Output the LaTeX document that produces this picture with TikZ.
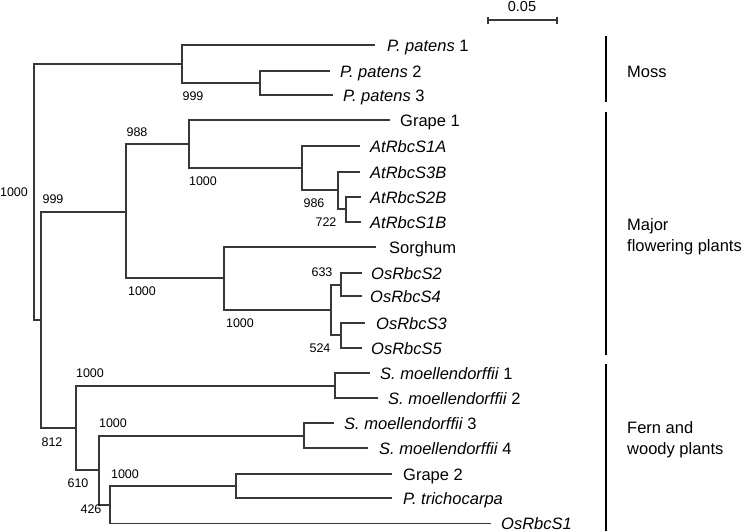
\documentclass[tikz,border=0pt]{standalone}
\usepackage{fontspec}
\setmainfont{Liberation Sans}
\begin{document}
\begin{tikzpicture}[x=1pt,y=-1pt,
 branch/.style={draw=black!78, line width=1.1pt},
 leaf/.style={anchor=base west, inner sep=0pt, font=\fontsize{16.5}{19}\selectfont},
 boot/.style={anchor=center, inner sep=0pt, font=\fontsize{12.5}{14}\selectfont},
 grp/.style={anchor=west, inner sep=0pt, align=left, font=\fontsize{16.5}{21.5}\selectfont},
 bar/.style={draw=black, line width=2.4pt}]
\useasboundingbox (0,0) rectangle (749,531);

% internal nodes
\coordinate (R) at (34,192);
\coordinate (M) at (182,64);
\coordinate (P23) at (260,83);
\coordinate (N999) at (41,320);
\coordinate (F) at (126,212);
\coordinate (N988) at (189,144);
\coordinate (NAt) at (302,168);
\coordinate (NAt2) at (338,190);
\coordinate (NAt3) at (346,209);
\coordinate (NG) at (224,278);
\coordinate (NOs) at (331,310);
\coordinate (NOs24) at (341,285);
\coordinate (NOs35) at (341,335);
\coordinate (L) at (76,428);
\coordinate (NS12) at (335,386);
\coordinate (N610) at (99,470);
\coordinate (NS34) at (304,436);
\coordinate (N426) at (110,505);
\coordinate (NGP) at (236,486);

% leaf ends
\coordinate (pp1) at (375,45);
\coordinate (pp2) at (330,71);
\coordinate (pp3) at (333,95);
\coordinate (gr1) at (390,120);
\coordinate (at1a) at (360,146);
\coordinate (at3b) at (360,172);
\coordinate (at2b) at (361,197);
\coordinate (at1b) at (361,222);
\coordinate (sor) at (376,247);
\coordinate (os2) at (362,273);
\coordinate (os4) at (362,296);
\coordinate (os3) at (365,323);
\coordinate (os5) at (362,348);
\coordinate (sm1) at (370,373);
\coordinate (sm2) at (378,398);
\coordinate (sm3) at (334,423);
\coordinate (sm4) at (368,448);
\coordinate (gr2) at (392,474);
\coordinate (ptr) at (392,498);
\coordinate (os1) at (491,523.5);

% branches
\draw[branch] (R) |- (M);
\draw[branch] (R) |- (N999);
\draw[branch] (M) |- (pp1);
\draw[branch] (M) |- (P23);
\draw[branch] (P23) |- (pp2);
\draw[branch] (P23) |- (pp3);
\draw[branch] (N999) |- (F);
\draw[branch] (N999) |- (L);
\draw[branch] (F) |- (N988);
\draw[branch] (F) |- (NG);
\draw[branch] (N988) |- (gr1);
\draw[branch] (N988) |- (NAt);
\draw[branch] (NAt) |- (at1a);
\draw[branch] (NAt) |- (NAt2);
\draw[branch] (NAt2) |- (at3b);
\draw[branch] (NAt2) |- (NAt3);
\draw[branch] (NAt3) |- (at2b);
\draw[branch] (NAt3) |- (at1b);
\draw[branch] (NG) |- (sor);
\draw[branch] (NG) |- (NOs);
\draw[branch] (NOs) |- (NOs24);
\draw[branch] (NOs) |- (NOs35);
\draw[branch] (NOs24) |- (os2);
\draw[branch] (NOs24) |- (os4);
\draw[branch] (NOs35) |- (os3);
\draw[branch] (NOs35) |- (os5);
\draw[branch] (L) |- (NS12);
\draw[branch] (L) |- (N610);
\draw[branch] (NS12) |- (sm1);
\draw[branch] (NS12) |- (sm2);
\draw[branch] (N610) |- (NS34);
\draw[branch] (N610) |- (N426);
\draw[branch] (NS34) |- (sm3);
\draw[branch] (NS34) |- (sm4);
\draw[branch] (N426) |- (NGP);
\draw[branch] (N426) |- (os1);
\draw[branch] (NGP) |- (gr2);
\draw[branch] (NGP) |- (ptr);

% leaf labels
\node[leaf] (tpp1) at (387,51) {\textit{P. patens} 1};
\node[leaf] (tpp2) at (340,77) {\textit{P. patens} 2};
\node[leaf] (tpp3) at (343,101) {\textit{P. patens} 3};
\node[leaf] (tgr1) at (400,126) {Grape 1};
\node[leaf] (tat1a) at (370,152) {\textit{AtRbcS1A}};
\node[leaf] (tat3b) at (370,178) {\textit{AtRbcS3B}};
\node[leaf] (tat2b) at (370,203) {\textit{AtRbcS2B}};
\node[leaf] (tat1b) at (370,228) {\textit{AtRbcS1B}};
\node[leaf] (tsor) at (389,253) {Sorghum};
\node[leaf] (tos2) at (371,279) {\textit{OsRbcS2}};
\node[leaf] (tos4) at (370,302) {\textit{OsRbcS4}};
\node[leaf] (tos3) at (376,329) {\textit{OsRbcS3}};
\node[leaf] (tos5) at (371,354) {\textit{OsRbcS5}};
\node[leaf] (tsm1) at (380,379) {\textit{S. moellendorffii} 1};
\node[leaf] (tsm2) at (388,404) {\textit{S. moellendorffii} 2};
\node[leaf] (tsm3) at (344,429) {\textit{S. moellendorffii} 3};
\node[leaf] (tsm4) at (379,454) {\textit{S. moellendorffii} 4};
\node[leaf] (tgr2) at (403,480) {Grape 2};
\node[leaf] (tptr) at (403,504) {\textit{P. trichocarpa}};
\node[leaf] (tos1) at (501,529) {\textit{OsRbcS1}};

% bootstrap values
\node[boot] (b1) at (14,192) {1000};
\node[boot] (b2) at (193,96) {999};
\node[boot] (b3) at (137,132) {988};
\node[boot] (b4) at (53,199) {999};
\node[boot] (b5) at (203,181) {1000};
\node[boot] (b6) at (314,203) {986};
\node[boot] (b7) at (326,222) {722};
\node[boot] (b8) at (142,291) {1000};
\node[boot] (b9) at (240,323) {1000};
\node[boot] (b10) at (322,272) {633};
\node[boot] (b11) at (320,348) {524};
\node[boot] (b12) at (90,373) {1000};
\node[boot] (b13) at (52,442) {812};
\node[boot] (b14) at (113,423) {1000};
\node[boot] (b15) at (78,483) {610};
\node[boot] (b16) at (125,474) {1000};
\node[boot] (b17) at (91,509) {426};

% group bars
\coordinate (mossA) at (606,36);
\coordinate (mossB) at (606,102);
\coordinate (majA) at (606,112);
\coordinate (majB) at (606,355);
\coordinate (fernA) at (606,364);
\coordinate (fernB) at (606,531);
\draw[bar] (mossA) -- (mossB);
\draw[bar] (majA) -- (majB);
\draw[bar] (fernA) -- (fernB);
\node[leaf] (gmoss) at (627,77) {Moss};
\node[grp] (gmaj) at (627,236.6) {Major\\flowering plants};
\node[grp] (gfern) at (627,439.5) {Fern and\\woody plants};

% scale bar
\coordinate (sbA) at (488,20);
\coordinate (sbB) at (557,20);
\draw[branch] (sbA) -- (sbB);
\draw[branch] ([yshift=3.5pt]sbA) -- ([yshift=-3.5pt]sbA);
\draw[branch] ([yshift=3.5pt]sbB) -- ([yshift=-3.5pt]sbB);
\node[anchor=base, inner sep=0pt, font=\fontsize{14.5}{16}\selectfont] (sbt) at (522,11) {0.05};
\end{tikzpicture}
\end{document}
